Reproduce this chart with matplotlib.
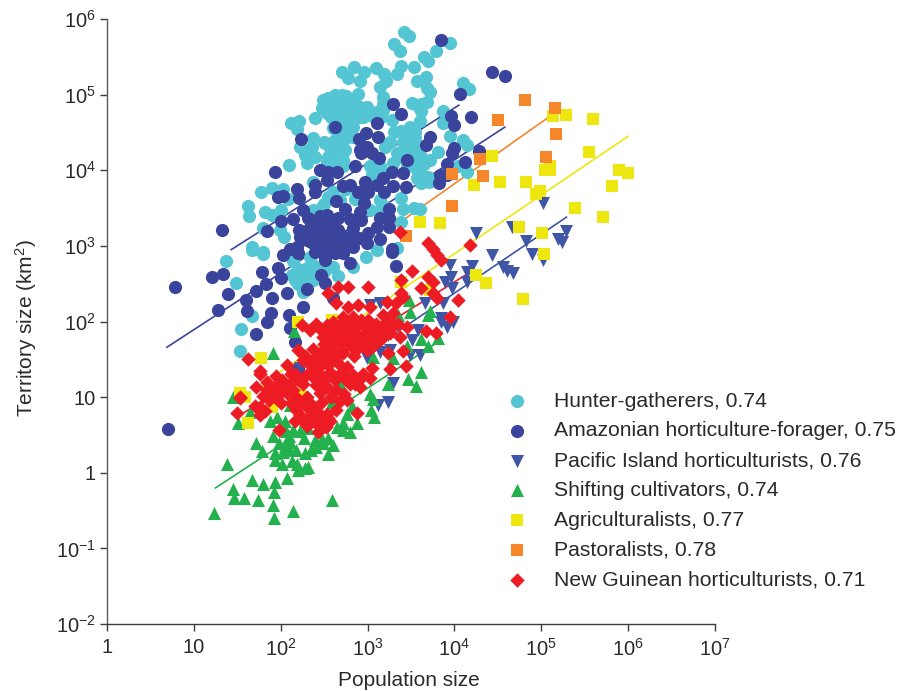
import numpy as np
import matplotlib
matplotlib.use("Agg")
import matplotlib.pyplot as plt

plt.rcParams['font.family'] = ['Liberation Sans', 'DejaVu Sans']
plt.rcParams['mathtext.fontset'] = 'custom'
plt.rcParams['mathtext.rm'] = 'Liberation Sans'
plt.rcParams['mathtext.default'] = 'rm'

# All values are (log10 population, log10 territory)
hunter = [(3.42,5.83),(3.48,5.78),(3.31,5.67),(3.37,5.58),(3.95,5.68),(3.79,5.58),(3.65,5.50),(3.69,5.44),(2.84,5.37),(2.70,5.30),(2.77,5.22),(2.96,5.30),(2.91,5.18),(3.10,5.35),(3.19,5.27),(3.21,5.18),(3.34,5.27),(3.39,5.38),(3.53,5.37),(3.67,5.23),(3.57,5.18),(4.10,5.15),(4.17,5.07),(3.68,5.09),(3.72,5.03),(3.14,5.10),(3.18,4.97),(2.89,5.01),(3.68,4.90),(3.51,4.89),(3.58,4.85),(3.87,4.78),(3.87,4.62),(3.60,4.65),(3.28,4.66),(2.40,4.69),(2.21,4.65),(2.12,4.62),(2.19,4.54),(2.49,4.93),(2.47,4.82),(2.53,4.76),(2.62,5.0),(2.70,5.0),(2.62,4.89),(2.72,4.86),(2.80,4.93),(2.82,4.80),(2.91,4.84),(2.99,4.84),(2.68,4.76),(2.80,4.73),(2.91,4.70),(3.11,4.77),(3.18,4.80),(2.60,4.56),(2.83,4.57),(2.83,4.44),(3.49,4.57),(3.95,4.45),(4.10,4.40),(4.14,4.33),(3.26,4.37),(3.20,4.31),(3.49,4.44),(3.41,4.37),(2.37,4.43),(2.36,4.31),(2.22,4.31),(2.28,4.20),(2.39,4.17),(2.30,4.09),(2.09,4.07),(2.51,4.36),(2.62,4.40),(2.74,4.27),(2.60,4.23),(2.72,4.13),(2.53,4.11),(3.03,4.05),(3.14,4.05),(3.34,4.23),(3.29,4.09),(3.49,4.23),(3.60,4.20),(3.81,4.24),(3.72,4.13),(3.57,4.0),(3.57,3.90),(3.69,3.91),(3.61,3.83),(3.71,3.84),(4.15,3.98),(4.04,4.05),(2.37,3.84),(1.77,3.71),(1.90,3.76),(2.03,3.75),(2.08,3.62),(1.62,3.53),(1.63,3.40),(1.82,3.45),(1.90,3.41),(2.00,3.47),(1.80,3.24),(1.99,3.21),(2.04,3.12),(1.67,2.98),(1.80,2.92),(2.37,3.47),(2.47,3.51),(2.60,3.71),(2.68,3.61),(3.03,3.47),(3.14,3.61),(3.20,3.51),(3.39,3.63),(3.41,3.49),(3.53,3.50),(3.60,3.49),(3.39,3.31),(3.34,2.97),(1.37,2.80),(1.67,2.95),(1.80,2.89),(1.48,2.51),(1.67,2.07),(1.54,1.90),(1.53,1.61),(2.14,2.80),(2.34,2.85),(2.30,2.71),(2.37,2.75),(2.13,2.61),(2.16,2.55),(2.24,2.58),(2.37,2.55),(2.26,2.39),(2.66,2.60),(2.60,2.72),(2.83,2.72),(2.98,2.85),(3.11,2.95),
 (2.55,4.95),(2.66,4.95),(2.75,4.98),(2.85,4.88),(2.58,4.82),(2.65,4.82),(2.75,4.80),(2.58,4.70),(2.70,4.65),(2.78,4.62),(2.88,4.75),(2.95,4.70),(3.05,4.72),(2.72,4.55),(2.75,4.42),(2.68,4.45),(2.50,4.38),(2.57,4.30),(2.68,4.33),(2.55,4.18),(2.65,4.12),(2.62,4.05),(2.72,4.05),(3.10,4.00),(3.05,3.95),(3.18,3.98),(3.58,4.30),(3.55,4.42),(3.50,4.35),(3.42,4.28),(3.38,4.18),(3.45,4.05),(3.55,4.10),(3.65,4.08),(3.62,3.95),(3.45,4.48),(3.55,4.50),(3.62,4.78),(3.62,4.88),(3.18,4.88),(3.16,4.70),(3.30,4.50),(3.38,4.52),(2.50,3.55),(2.55,3.65),(2.75,3.75),(2.85,3.62),(3.15,3.50),(2.20,2.70),(2.25,2.62),(2.20,2.50),(2.30,2.55),(2.45,2.70),(2.50,2.65),(2.32,2.62),(2.28,2.48)]

amazon = [(0.70,0.58),(0.78,2.46),(1.21,2.59),(1.33,2.63),(1.39,2.36),(1.28,2.15),(1.60,2.28),(1.61,2.14),(1.71,2.40),(1.71,1.83),(1.78,2.65),(1.83,2.49),(1.90,2.31),(1.89,2.11),(1.84,2.0),(1.97,2.71),(2.0,2.58),(2.07,2.38),(2.09,2.08),(2.11,1.91),(2.17,1.73),(2.26,2.19),(2.30,2.43),(2.46,2.61),(2.51,2.51),(2.51,2.81),(2.60,2.31),(3.33,2.73),(3.28,2.92),(2.20,1.38),(3.85,5.72),(4.43,5.30),(4.58,5.24),(4.06,5.01),(3.29,4.88),(3.39,4.75),(3.96,4.72),(4.0,4.60),(4.19,4.70),(3.11,4.62),(2.62,4.57),(2.23,4.41),(2.98,4.49),(3.12,4.44),(2.90,4.41),(3.72,4.44),(3.67,4.33),(3.99,4.30),(3.97,4.23),(4.28,4.26),(4.12,4.11),(3.91,4.08),(3.45,4.13),(2.85,4.06),(2.91,4.27),(2.99,4.31),(3.05,4.23),(3.13,4.16),(2.93,4.23),(1.93,3.98),(2.45,4.0),(2.54,3.98),(2.65,3.98),(2.53,3.87),(2.39,3.80),(2.39,3.71),(3.28,3.98),(3.41,3.96),(3.18,3.90),(3.29,3.79),(3.44,3.78),(3.83,3.94),(3.82,3.83),(3.91,3.94),(2.72,3.79),(2.80,3.80),(2.97,3.84),(2.89,3.71),(3.0,3.71),(3.11,3.80),(3.19,3.71),(2.96,3.57),(2.19,3.75),(2.21,3.63),(1.97,3.65),(2.03,3.66),(2.64,3.59),(2.26,3.47),(2.14,3.35),(2.0,3.33),(1.84,3.20),(1.32,3.21),(2.31,3.37),(2.53,3.41),(2.66,3.37),(2.74,3.49),(2.91,3.45),(2.93,3.34),(3.25,3.49),(3.14,3.37),(3.25,3.37),(3.11,3.25),(3.25,3.25),(3.0,3.17),(3.14,3.09),(3.28,2.96),(2.21,3.21),(2.31,3.21),(2.45,3.30),(2.53,3.21),(2.50,3.09),(2.66,3.21),(2.83,3.24),(2.74,3.12),(2.30,3.08),(2.19,2.98),(2.83,2.98),(2.99,3.04),(2.62,2.96),(2.43,3.14),(2.22,3.12),(2.11,2.96),(2.77,3.05),(2.59,3.08),(2.03,2.88),(2.20,2.90),(2.62,2.90),(2.72,2.90),(2.80,2.78),(2.51,2.85),
 (2.40,3.18),(2.55,3.12),(2.35,3.05),(2.45,3.02),(2.58,3.00),(2.68,3.05),(2.70,2.95),(2.40,2.92),(2.90,3.10),(2.45,3.40),(2.60,3.30),(2.80,3.36),(2.52,3.00),(2.35,3.30),(2.85,3.12)]

pacific = [(4.25,3.17),(4.66,3.25),(4.82,3.07),(5.02,3.57),(5.29,3.20),(5.19,3.09),(5.24,3.05),(4.89,2.89),(5.02,2.81),(4.43,2.88),(4.56,2.72),(4.61,2.67),(4.67,2.64),(4.20,2.73),(3.95,2.75),(3.96,2.59),(4.15,2.65),(4.14,2.52),(3.89,2.52),(3.97,2.44),(3.66,2.24),(3.87,2.24),(3.85,2.04),(3.85,2.0),(3.92,1.93),(3.98,2.0),(3.58,1.89),(3.51,1.76),(3.60,1.56),(3.49,1.56),(3.29,1.19),(3.23,0.94),(3.12,0.90),(3.03,2.22),(3.14,2.24),(3.14,1.60),(2.99,1.52),(2.88,1.62),(3.23,1.82),(2.22,1.38),(3.26,1.62)]

shifting = [(3.48,2.28),(3.49,2.12),(3.72,2.14),(3.69,2.08),(3.35,2.08),(3.62,1.77),(3.81,1.78),(3.69,1.67),(3.62,1.33),(3.46,1.24),(3.56,1.15),(3.23,1.17),(3.06,1.53),(3.29,1.52),(3.45,1.68),(3.03,1.04),(3.06,0.97),(3.04,0.83),(3.07,0.74),(2.88,0.66),(2.72,0.66),(2.80,0.54),(2.65,0.60),(2.72,0.56),(2.59,0.94),(2.82,0.88),(2.76,0.78),(2.54,0.46),(2.60,0.37),(2.49,0.39),(2.39,0.43),(2.41,0.34),(2.54,0.25),(2.28,0.26),(2.27,0.46),(2.31,0.59),(2.11,0.41),(2.11,0.30),(2.03,0.28),(1.93,0.26),(1.93,0.17),(2.01,0.11),(2.13,0.15),(2.19,0.11),(2.20,0.04),(2.31,0.08),(2.28,0.06),(1.71,0.40),(1.78,0.29),(1.91,0.48),(1.38,0.12),(2.07,-0.07),(1.93,-0.12),(1.80,-0.15),(1.67,-0.09),(1.45,-0.22),(1.46,-0.33),(1.58,-0.34),(1.74,-0.36),(1.92,-0.25),(1.91,-0.42),(2.14,-0.50),(2.59,-0.36),(1.92,-0.60),(1.23,-0.53),(1.91,1.59),(2.15,1.87),(1.45,1.0),(1.51,0.66),(1.65,0.80),(1.88,0.68),(1.96,0.74),(2.05,0.68),(2.14,0.56),(2.28,0.70),(2.11,0.90),(2.68,1.18),
 (2.06,0.55),(2.00,0.62),(2.22,0.55),(2.10,0.48),(2.18,0.30),(2.05,0.35),(1.98,0.40),(2.35,0.30),(2.47,0.45)]

agricultural = [(5.14,4.72),(5.29,4.73),(5.59,4.68),(5.55,4.24),(5.90,4.0),(6.0,3.96),(5.81,3.79),(5.39,3.50),(5.71,3.38),(4.43,4.19),(5.10,4.05),(5.04,4.0),(5.10,4.0),(4.22,3.80),(4.53,3.84),(4.82,3.84),(4.98,3.72),(4.94,3.69),(3.60,3.31),(3.83,3.30),(4.74,3.25),(5.01,3.17),(5.03,2.89),(4.25,2.61),(4.36,2.51),(4.79,2.30),(1.77,1.52),(2.20,2.0),(1.53,1.05),(1.59,1.0),(1.62,0.66),(3.39,2.52),(3.72,2.42),(2.59,2.02),(1.85,1.09),(2.22,1.04),(1.90,0.87)]

pastoral = [(4.81,4.93),(5.16,4.82),(4.50,4.66),(5.17,4.48),(5.05,4.17),(4.29,4.15),(3.97,3.95),(4.33,3.92),(3.97,3.53),(3.44,3.13)]

guinean = [(3.37,3.18),(3.69,3.04),(3.75,2.96),(4.18,3.01),(3.80,2.88),(3.85,2.81),(3.51,2.67),(3.75,2.52),(3.69,2.59),(3.61,2.44),(3.75,2.38),(3.80,2.31),(4.04,2.28),(3.95,2.06),(3.67,1.88),(3.79,1.85),(3.39,2.55),(3.39,2.38),(3.00,2.45),(2.77,2.45),(2.66,2.45),(2.55,2.38),(3.23,1.58),(3.41,1.61),(3.26,1.37),(3.44,1.41),(3.05,1.39),(1.62,1.50),(1.76,1.35),(1.53,0.99),(1.50,0.79),(2.88,0.79),(1.98,0.57),(2.43,0.54),
 (2.64,2.24),(2.78,2.19),(2.89,2.22),(3.03,2.19),(3.22,2.26),(3.33,2.24),(3.41,2.33),
 (2.24,1.95),(2.34,1.89),(2.41,1.97),(2.53,1.95),(2.60,2.0),(2.72,2.06),(2.83,2.06),(2.93,2.02),(3.05,1.95),(3.18,2.08),(3.29,2.11),(3.45,1.93),(3.35,1.97),(3.37,1.80),
 (2.49,1.80),(2.64,1.84),(2.76,1.89),(2.87,1.84),(2.99,1.84),(3.10,1.86),(3.22,1.89),(3.14,1.75),(3.03,1.71),(2.91,1.75),(2.80,1.71),(2.68,1.71),
 (2.20,1.62),(2.37,1.64),(2.49,1.62),(2.60,1.62),(2.72,1.58),(2.87,1.62),(2.99,1.62),
 (2.26,1.49),(2.37,1.49),(2.49,1.45),(2.62,1.49),(2.76,1.40),
 (2.07,1.42),(2.16,1.31),(2.34,1.33),(2.45,1.31),(2.57,1.33),(2.68,1.31),(2.83,1.29),(2.93,1.25),(3.03,1.25),
 (1.76,1.31),(1.72,1.14),(1.84,1.09),(1.99,1.20),(2.11,1.18),(2.26,1.18),(2.41,1.16),(2.53,1.14),(2.64,1.09),(2.80,1.18),(2.91,1.14),
 (1.93,1.00),(2.07,1.05),(2.18,1.00),(2.30,1.00),(2.45,1.05),(2.76,0.96),
 (1.76,0.87),(1.76,0.76),(1.86,0.96),(2.18,0.83),(2.30,0.87),(2.41,0.83),(2.53,0.78),(2.64,0.83),(2.16,0.69),(2.26,0.69),(2.37,0.69),(2.49,0.69),(2.57,0.69),(2.45,0.61),(1.53,1.00),
 (2.68,1.95),(2.76,1.96),(2.82,1.95),(2.88,1.94),(2.96,1.94),(3.00,2.02),(3.10,1.97),(3.16,1.93),(2.72,1.78),(2.78,1.78),(2.85,1.78),(2.92,1.80),(2.97,1.77),(3.05,1.80),(3.10,1.78),(3.18,1.80),(3.26,1.85),(3.30,1.95),(3.24,2.00),(2.74,1.66),(2.82,1.66),(2.90,1.68),(2.97,1.68),(3.04,1.65),(3.08,1.70),(2.84,1.55),(2.65,1.55),(2.55,1.55),(2.50,1.70),(2.56,1.72),(2.62,1.75),(2.57,1.88),(2.45,1.90),(2.66,1.90),
 (2.28,1.55),(2.42,1.55),(2.34,1.42),(2.42,1.40),(2.55,1.42),(2.68,1.42),(2.68,1.30),(2.62,1.22),(2.50,1.22),(2.38,1.25),(2.28,1.28),(2.20,1.22),(2.12,1.30),(2.03,1.10),(1.93,1.12),(1.84,1.20),(1.80,1.02),(2.00,0.92),(2.12,0.92),(2.22,0.92),(2.34,0.92),(2.48,0.93),(2.58,1.00),(2.68,0.95),(2.73,1.04),(2.35,0.77),(2.47,0.74),(2.22,0.76),(2.55,0.72),(2.30,0.62),(2.52,0.60),(1.70,0.88),(1.82,0.82),(2.75,1.22),(2.85,1.18),(2.95,1.30),
 (1.95,1.28),(2.02,1.22),(1.88,1.05),(2.08,1.12),(1.98,1.04),(2.14,1.10)]

hunter_label = "Hunter-gatherers, 0.74"
amazon_label = "Amazonian horticulture-forager, 0.75"
pacific_label = "Pacific Island horticulturists, 0.76"
shifting_label = "Shifting cultivators, 0.74"
agricultural_label = "Agriculturalists, 0.77"
pastoral_label = "Pastoralists, 0.78"
guinean_label = "New Guinean horticulturists, 0.71"

# Fitted lines: (log10 x, log10 y) endpoints
line_hunter = [(1.43,2.95),(4.05,4.86)]
line_amazon = [(0.69,1.66),(4.58,4.57)]
line_pacific = [(3.03,1.62),(5.29,3.38)]
line_shifting = [(1.25,-0.20),(3.80,1.72)]
line_agricultural = [(1.82,1.20),(6.0,4.45)]
line_pastoral = [(3.37,3.31),(5.07,4.69)]
line_guinean = [(1.57,0.79),(4.22,2.68)]

x_ticks = [1, 10, 100, 1e3, 1e4, 1e5, 1e6, 1e7]
x_labels = ['1', '10', '$10^{2}$', '$10^{3}$', '$10^{4}$', '$10^{5}$', '$10^{6}$', '$10^{7}$']
y_ticks = [1e-2, 1e-1, 1, 10, 100, 1e3, 1e4, 1e5, 1e6]
y_labels = ['$10^{-2}$', '$10^{-1}$', '1', '10', '$10^{2}$', '$10^{3}$', '$10^{4}$', '$10^{5}$', '$10^{6}$']

CY, NV, BL, GR, YE, OR, RD = '#54c5d3', '#3b449c', '#3f55a5', '#22b14c', '#eee70f', '#f6862a', '#ed1c24'
INK = '#2b2a2b'

W, H = 901, 691
fig = plt.figure(figsize=(W/100, H/100), dpi=100)
ax = fig.add_axes([107/W, 1-624/H, 608/W, 605/H])
ax.set_xscale('log'); ax.set_yscale('log')
ax.set_xlim(1, 1e7); ax.set_ylim(1e-2, 1e6)

series = [
    (hunter, CY, 'o', 90, hunter_label),
    (amazon, NV, 'o', 90, amazon_label),
    (pacific, BL, 'v', 88, pacific_label),
    (shifting, GR, '^', 88, shifting_label),
    (agricultural, YE, 's', 76, agricultural_label),
    (pastoral, OR, 's', 76, pastoral_label),
    (guinean, RD, 'D', 54, guinean_label),
]
for i, (pts, c, m, s, lab) in enumerate(series):
    a = 10.0 ** np.array(pts)
    ax.scatter(a[:, 0], a[:, 1], c=c, marker=m, s=s, linewidths=0, label=lab, zorder=3 + i, clip_on=False)

for ln, c in [(line_hunter, NV), (line_amazon, NV), (line_pacific, BL), (line_shifting, GR),
              (line_agricultural, YE), (line_pastoral, OR), (line_guinean, RD)]:
    a = 10.0 ** np.array(ln)
    ax.plot(a[:, 0], a[:, 1], color=c, lw=1.2, zorder=2.5)

for s in ('top', 'right'):
    ax.spines[s].set_visible(False)
ax.spines['left'].set_linewidth(1.0); ax.spines['left'].set_color('#58595b')
ax.spines['bottom'].set_linewidth(1.0); ax.spines['bottom'].set_color('#3c3c3c')
ax.set_xticks(x_ticks); ax.set_xticklabels(x_labels)
ax.set_yticks(y_ticks); ax.set_yticklabels(y_labels)
ax.minorticks_off()
ax.tick_params(axis='both', which='major', length=5.2, width=1.0, color='#3c3c3c', labelcolor=INK, labelsize=14.5)
ax.tick_params(axis='x', pad=5)
ax.tick_params(axis='y', pad=3)
ax.set_xlabel('Population size', fontsize=15, color=INK)
ax.set_ylabel('Territory size (km$^{2}$)', fontsize=15, color=INK)
ax.xaxis.set_label_coords(0.497, -0.077)
ax.yaxis.set_label_coords(-0.112, 0.489)

leg = ax.legend(loc='upper left', bbox_to_anchor=(0.640, 0.384), frameon=False, fontsize=15.2,
                labelspacing=0.51, handletextpad=0.76, borderpad=0, borderaxespad=0, scatterpoints=1)
for t in leg.get_texts():
    t.set_color(INK)
fig.savefig('out.png', dpi=100)
